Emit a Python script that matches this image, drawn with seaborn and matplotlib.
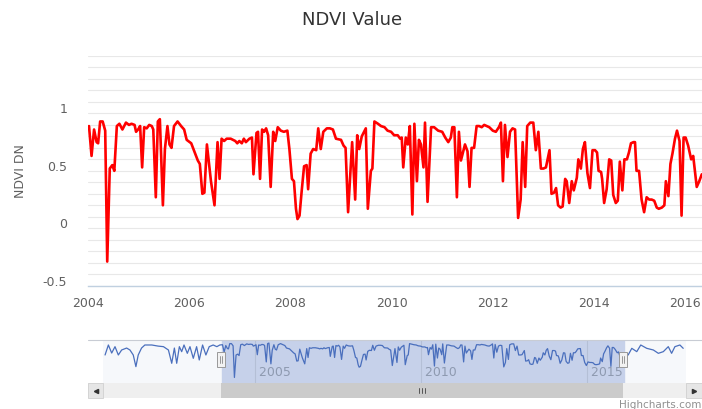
import numpy as np
import pandas as pd
import matplotlib
matplotlib.use("Agg")
import matplotlib.pyplot as plt
from matplotlib.patches import Rectangle
from matplotlib.transforms import ScaledTranslation
import seaborn as sns

# main series (decimal year, NDVI DN)
years = [2004.02, 2004.07, 2004.12, 2004.17, 2004.20, 2004.24, 2004.29, 2004.34, 2004.38, 2004.43,
         2004.48, 2004.52, 2004.57, 2004.62, 2004.68, 2004.75, 2004.81, 2004.86, 2004.92, 2004.95,
         2004.99, 2005.03, 2005.07, 2005.11, 2005.16, 2005.21, 2005.26, 2005.29, 2005.34, 2005.38,
         2005.42, 2005.48, 2005.52, 2005.57, 2005.61, 2005.65, 2005.70, 2005.77, 2005.84, 2005.90,
         2005.95, 2006.04, 2006.11, 2006.17, 2006.21, 2006.26, 2006.30, 2006.35, 2006.43, 2006.50,
         2006.56, 2006.60, 2006.64, 2006.69, 2006.74, 2006.82, 2006.91, 2006.95, 2006.99, 2007.04,
         2007.08, 2007.12, 2007.19, 2007.24, 2007.27, 2007.33, 2007.36, 2007.40, 2007.44, 2007.48,
         2007.52, 2007.56, 2007.61, 2007.66, 2007.70, 2007.75, 2007.81, 2007.87, 2007.94, 2007.98,
         2008.03, 2008.07, 2008.11, 2008.14, 2008.18, 2008.22, 2008.27, 2008.32, 2008.35, 2008.40,
         2008.45, 2008.51, 2008.55, 2008.60, 2008.65, 2008.72, 2008.78, 2008.84, 2008.90, 2009.00,
         2009.05, 2009.09, 2009.14, 2009.22, 2009.28, 2009.32, 2009.36, 2009.41, 2009.49, 2009.53,
         2009.59, 2009.62, 2009.66, 2009.73, 2009.79, 2009.86, 2009.92, 2009.99, 2010.05, 2010.12,
         2010.17, 2010.20, 2010.23, 2010.28, 2010.32, 2010.36, 2010.41, 2010.45, 2010.50, 2010.54,
         2010.58, 2010.63, 2010.66, 2010.71, 2010.78, 2010.84, 2010.92, 2011.00, 2011.06, 2011.12,
         2011.17, 2011.20, 2011.24, 2011.29, 2011.33, 2011.37, 2011.45, 2011.50, 2011.54, 2011.58,
         2011.63, 2011.68, 2011.73, 2011.78, 2011.83, 2011.88, 2011.93, 2012.00, 2012.06, 2012.12,
         2012.16, 2012.20, 2012.24, 2012.29, 2012.34, 2012.39, 2012.44, 2012.50, 2012.55, 2012.59,
         2012.64, 2012.68, 2012.74, 2012.80, 2012.85, 2012.90, 2012.95, 2013.00, 2013.05, 2013.12,
         2013.16, 2013.21, 2013.25, 2013.29, 2013.34, 2013.38, 2013.43, 2013.46, 2013.51, 2013.56,
         2013.60, 2013.66, 2013.69, 2013.74, 2013.78, 2013.82, 2013.87, 2013.92, 2013.97, 2014.02,
         2014.06, 2014.09, 2014.14, 2014.16, 2014.20, 2014.25, 2014.30, 2014.34, 2014.38, 2014.43,
         2014.47, 2014.51, 2014.56, 2014.60, 2014.65, 2014.69, 2014.73, 2014.78, 2014.81, 2014.84,
         2014.89, 2014.94, 2014.99, 2015.04, 2015.09, 2015.14, 2015.19, 2015.24, 2015.28, 2015.34,
         2015.39, 2015.42, 2015.47, 2015.51, 2015.55, 2015.60, 2015.64, 2015.69, 2015.73, 2015.77,
         2015.81, 2015.86, 2015.92, 2015.96, 2016.03, 2016.08, 2016.13]
ndvi = [0.89, 0.63, 0.86, 0.75, 0.74, 0.93, 0.93, 0.85, -0.29, 0.52,
        0.55, 0.50, 0.89, 0.91, 0.86, 0.92, 0.90, 0.91, 0.90, 0.84,
        0.86, 0.89, 0.53, 0.88, 0.87, 0.90, 0.89, 0.86, 0.27, 0.93,
        0.95, 0.20, 0.69, 0.89, 0.73, 0.70, 0.89, 0.93, 0.89, 0.86,
        0.77, 0.74, 0.66, 0.59, 0.56, 0.30, 0.31, 0.73, 0.41, 0.20,
        0.75, 0.43, 0.78, 0.76, 0.78, 0.78, 0.76, 0.74, 0.76, 0.74,
        0.78, 0.75, 0.78, 0.79, 0.47, 0.83, 0.84, 0.43, 0.86, 0.84,
        0.87, 0.81, 0.36, 0.84, 0.76, 0.88, 0.85, 0.84, 0.85, 0.69,
        0.43, 0.41, 0.17, 0.08, 0.11, 0.31, 0.54, 0.55, 0.34, 0.65,
        0.69, 0.68, 0.87, 0.69, 0.84, 0.87, 0.87, 0.86, 0.78, 0.77,
        0.72, 0.70, 0.14, 0.75, 0.25, 0.81, 0.69, 0.80, 0.87, 0.17,
        0.50, 0.52, 0.93, 0.91, 0.89, 0.88, 0.85, 0.84, 0.81, 0.81,
        0.78, 0.79, 0.53, 0.79, 0.73, 0.89, 0.12, 0.91, 0.41, 0.77,
        0.73, 0.53, 0.92, 0.23, 0.88, 0.88, 0.85, 0.84, 0.79, 0.75,
        0.79, 0.88, 0.88, 0.27, 0.84, 0.59, 0.73, 0.67, 0.36, 0.70,
        0.70, 0.89, 0.89, 0.88, 0.90, 0.89, 0.88, 0.85, 0.84, 0.88,
        0.92, 0.41, 0.90, 0.62, 0.84, 0.87, 0.86, 0.09, 0.25, 0.75,
        0.36, 0.89, 0.92, 0.92, 0.68, 0.84, 0.52, 0.52, 0.53, 0.68,
        0.30, 0.31, 0.35, 0.20, 0.18, 0.19, 0.43, 0.41, 0.22, 0.41,
        0.33, 0.44, 0.60, 0.52, 0.69, 0.75, 0.48, 0.35, 0.68, 0.68,
        0.66, 0.50, 0.49, 0.43, 0.22, 0.34, 0.60, 0.59, 0.29, 0.22,
        0.24, 0.58, 0.33, 0.60, 0.60, 0.66, 0.74, 0.75, 0.75, 0.50,
        0.50, 0.25, 0.14, 0.27, 0.25, 0.25, 0.24, 0.18, 0.17, 0.18,
        0.20, 0.41, 0.28, 0.56, 0.65, 0.78, 0.85, 0.76, 0.11, 0.79,
        0.79, 0.72, 0.60, 0.63, 0.36, 0.41, 0.47]

# navigator series outside the zoomed window
nav_years_before = [2000.48, 2000.58, 2000.68, 2000.78, 2000.88, 2000.98, 2001.13, 2001.23, 2001.33,
                    2001.41, 2001.48, 2001.58, 2001.68, 2001.89, 2002.08, 2002.24, 2002.39, 2002.49,
                    2002.57, 2002.64, 2002.72, 2002.79, 2002.86, 2002.96, 2003.04, 2003.14, 2003.24,
                    2003.32, 2003.42, 2003.52, 2003.62, 2003.74, 2003.85, 2003.94]
nav_ndvi_before = [0.52, 0.88, 0.59, 0.82, 0.52, 0.70, 0.77, 0.70, 0.52,
                   0.10, 0.52, 0.77, 0.88, 0.88, 0.84, 0.82, 0.70, 0.22,
                   0.77, 0.22, 0.82, 0.64, 0.88, 0.58, 0.82, 0.40, 0.82,
                   0.34, 0.88, 0.52, 0.82, 0.88, 0.82, 0.88]
nav_years_after = [2016.25, 2016.36, 2016.51, 2016.63, 2016.81, 2017.01, 2017.16, 2017.31,
                   2017.46, 2017.56, 2017.66, 2017.81, 2017.91]
nav_ndvi_after = [0.52, 0.76, 0.64, 0.88, 0.76, 0.70, 0.58, 0.64,
                  0.82, 0.58, 0.82, 0.88, 0.76]

x_ticks = [2004, 2006, 2008, 2010, 2012, 2014, 2016]
y_ticks = [-0.5, 0, 0.5, 1]
y_tick_labels = ['-0.5', '0', '0.5', '1']
nav_ticks = [2005, 2010, 2015]

W, H = 702, 409
view = (2004.0, 2016.134)
nav_range = (2000.418, 2017.994)

sns.set_style("white")
plt.rcParams['font.family'] = ['DejaVu Sans']

main_df = pd.DataFrame({'year': years, 'ndvi': ndvi})
nav_df = pd.DataFrame({'year': nav_years_before + years + nav_years_after,
                       'ndvi': nav_ndvi_before + ndvi + nav_ndvi_after})

fig = plt.figure(figsize=(W / 100, H / 100), dpi=100)

# main chart
ax = fig.add_axes([88 / W, 1 - 285.7 / H, 614 / W, 229.7 / H])
sns.lineplot(data=main_df, x='year', y='ndvi', ax=ax, color='#ff0000', linewidth=1.9)
ax.set_xlim(*view)
ax.set_ylim(-0.5, 1.5)
ax.set_yticks(y_ticks)
ax.set_yticklabels(y_tick_labels)
ax.set_yticks(np.arange(-0.5, 1.51, 0.1), minor=True)
ax.yaxis.grid(True, which='both', color='#e8e8e8', linewidth=0.8)
ax.set_axisbelow(True)
ax.tick_params(axis='y', which='both', length=0, pad=15, labelsize=9, labelcolor='#606060')
for t in ax.get_yticklabels():
    t.set_va('baseline')
ax.set_xticks(x_ticks)
ax.set_xticklabels([str(x) for x in x_ticks])
ax.tick_params(axis='x', length=7, width=1, color='#c0d0e0', direction='out', pad=1,
               labelsize=9, labelcolor='#606060')
# last label is pushed inside the chart edge
last = ax.get_xticklabels()[-1]
last.set_ha('right')
last.set_transform(last.get_transform() + ScaledTranslation(0.06, 0, fig.dpi_scale_trans))
for side in ['top', 'right', 'left']:
    ax.spines[side].set_visible(False)
ax.spines['bottom'].set_color('#c0d0e0')
ax.spines['bottom'].set_linewidth(1)
ax.set_xlabel('')
ax.set_ylabel('')

fig.text(352 / W, 1 - 20 / H, 'NDVI Value', ha='center', va='center', fontsize=13, color='#333333')
fig.text(20 / W, 1 - 171 / H, 'NDVI DN', ha='center', va='center', rotation=90, fontsize=9,
         color='#606060')

# navigator
nav = fig.add_axes([103 / W, 1 - 383 / H, 583 / W, 43 / H])
nav.set_facecolor('#f6f8fb')
nav.axvspan(view[0], view[1], color='#c6d1ea', zorder=0)
for yr in nav_ticks:
    nav.axvline(yr, color='#b4bfd6', linewidth=0.8, zorder=1)
    nav.text(yr, 0.245, ' ' + str(yr), fontsize=9, color='#8e9ab0', ha='left', va='center',
             transform=nav.get_xaxis_transform())
sns.lineplot(data=nav_df, x='year', y='ndvi', ax=nav, color='#4a6fbd', linewidth=0.9)
nav.set_xlim(*nav_range)
nav.set_ylim(-0.49, 1.06)
nav.set_xticks([])
nav.set_yticks([])
nav.set_xlabel('')
nav.set_ylabel('')
for s in nav.spines.values():
    s.set_visible(False)

# chrome: navigator outline, handles and scrollbar (pixel coordinates)
px = fig.add_axes([0, 0, 1, 1], zorder=5)
px.set_xlim(0, W)
px.set_ylim(H, 0)
px.axis('off')
px.patch.set_alpha(0)
px.plot([88, 702], [340, 340], color='#c8ccd4', linewidth=0.8)
px.add_patch(Rectangle((88, 383), 614, 15, facecolor='#efefef', edgecolor='none'))
px.add_patch(Rectangle((221, 383), 402, 15, facecolor='#cbcbcb', edgecolor='none'))
px.add_patch(Rectangle((88, 383), 15, 15, facecolor='#e6e6e6', edgecolor='#d0d0d0', linewidth=0.6))
px.add_patch(Rectangle((686, 383), 16, 15, facecolor='#e6e6e6', edgecolor='#d0d0d0', linewidth=0.6))
px.plot([95.5], [390.5], marker='<', markersize=3, color='#333333')
px.plot([694], [390.5], marker='>', markersize=3, color='#333333')
for gx in [419, 422, 425]:
    px.plot([gx, gx], [388, 393], color='#555555', linewidth=0.7)
for hx in [221, 623]:
    px.add_patch(Rectangle((hx - 4, 352), 8, 15, facecolor='#f2f2f2', edgecolor='#999999', linewidth=0.7))
    px.plot([hx - 1, hx - 1], [356, 363], color='#888888', linewidth=0.6)
    px.plot([hx + 1, hx + 1], [356, 363], color='#888888', linewidth=0.6)

fig.text(701 / W, 1 - 399.5 / H, 'Highcharts.com', ha='right', va='top', fontsize=7.5, color='#909090')

fig.savefig('out.png', dpi=100)
